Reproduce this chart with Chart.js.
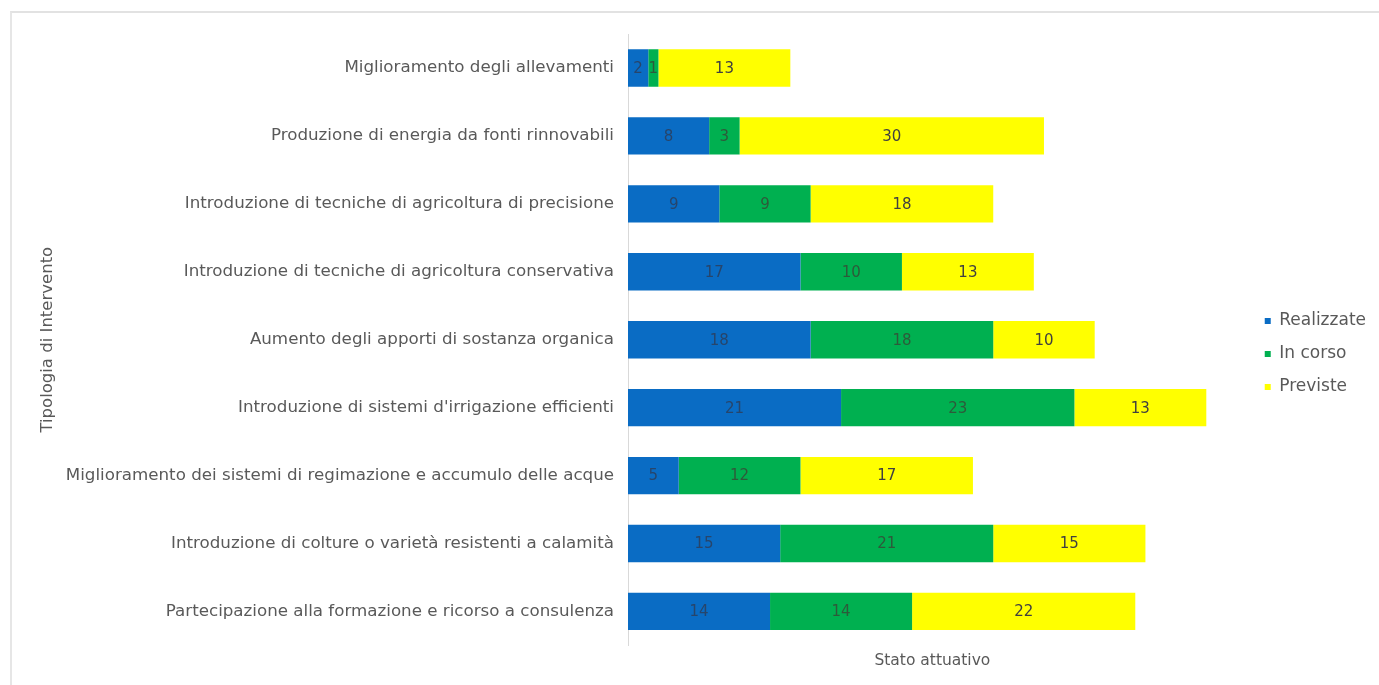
<!DOCTYPE html>
<html>
<head>
<meta charset="utf-8">
<script src="https://cdn.jsdelivr.net/npm/chart.js@4/dist/chart.umd.min.js"></script>
<style>
    html, body { margin: 0; padding: 0; background: #fff; overflow: hidden; }
    #frame {
        position: absolute; left: 10px; top: 11px; width: 1400px; height: 700px;
        border-top: 2px solid #e2e2e2; border-left: 2px solid #e6e6e6; box-sizing: border-box;
    }
    #chart-container { position: absolute; left: 0; top: 0; width: 1379px; height: 685px; }
</style>
</head>
<body>
<div id="frame"></div>
<div id="chart-container"><canvas id="chart"></canvas></div>
<script>
const categories = [
    "Miglioramento degli allevamenti",
    "Produzione di energia da fonti rinnovabili",
    "Introduzione di tecniche di agricoltura di precisione",
    "Introduzione di tecniche di agricoltura conservativa",
    "Aumento degli apporti di sostanza organica",
    "Introduzione di sistemi d'irrigazione efficienti",
    "Miglioramento dei sistemi di regimazione e accumulo delle acque",
    "Introduzione di colture o varietà resistenti a calamità",
    "Partecipazione alla formazione e ricorso a consulenza"
];
const realizzate = [2, 8, 9, 17, 18, 21, 5, 15, 14];
const inCorso = [1, 3, 9, 10, 18, 23, 12, 21, 14];
const previste = [13, 30, 18, 13, 10, 13, 17, 15, 22];

const FONT = "'DejaVu Sans', sans-serif";
const AXIS_LEFT = 628;
const LEGEND_SHIFT = 12;

// writes each segment's value in the middle of its bar
const barValues = {
    id: 'barValues',
    afterDatasetsDraw(chart) {
        const {ctx} = chart;
        ctx.save();
        ctx.font = "15px " + FONT;
        ctx.textAlign = 'center';
        ctx.textBaseline = 'middle';
        chart.data.datasets.forEach((ds, i) => {
            const meta = chart.getDatasetMeta(i);
            meta.data.forEach((bar, j) => {
                const x = (bar.x + bar.base) / 2;
                ctx.fillStyle = ds.labelColor;
                ctx.fillText(String(ds.data[j]), x, bar.y + 1);
            });
        });
        ctx.restore();
    }
};

// leave a wider gap between the bars and the legend
const legendGap = {
    id: 'legendGap',
    afterLayout(chart) {
        if (chart.legend) {
            chart.legend.left += LEGEND_SHIFT;
            chart.legend.right += LEGEND_SHIFT;
        }
    }
};

let ctx = document.getElementById('chart').getContext('2d');
let chart = new Chart(ctx, {
    type: 'bar',
    data: {
        labels: categories,
        datasets: [
            {label: 'Realizzate', data: realizzate, backgroundColor: '#0A6CC4', labelColor: '#27456b'},
            {label: 'In corso', data: inCorso, backgroundColor: '#00B050', labelColor: '#2d5a3a'},
            {label: 'Previste', data: previste, backgroundColor: '#FFFF00', labelColor: '#404040'}
        ]
    },
    options: {
        indexAxis: 'y',
        responsive: true,
        maintainAspectRatio: false,
        animation: false,
        categoryPercentage: 0.55,
        barPercentage: 1,
        layout: {padding: {left: 38, top: 34, right: 15, bottom: 11}},
        scales: {
            x: {
                stacked: true,
                min: 0,
                max: 60,
                grid: {display: false, drawTicks: false},
                border: {display: false},
                ticks: {display: false},
                title: {display: true, text: 'Stato attuativo', color: '#595959', font: {family: FONT, size: 15.5}, padding: {top: 6}}
            },
            y: {
                stacked: true,
                grid: {display: false, drawTicks: false},
                border: {display: true, color: '#d9d9d9'},
                ticks: {color: '#595959', font: {family: FONT, size: 16.7}, padding: 14},
                title: {display: true, text: 'Tipologia di Intervento', color: '#595959', font: {family: FONT, size: 16.5}, padding: 0},
                afterFit(scale) {
                    // the long category names need the whole left side
                    scale.width = AXIS_LEFT - 38;
                }
            }
        },
        plugins: {
            legend: {
                position: 'right',
                labels: {
                    color: '#595959',
                    font: {family: FONT, size: 17},
                    boxWidth: 6,
                    boxHeight: 6,
                    padding: 16
                }
            },
            tooltip: {enabled: false}
        }
    },
    plugins: [barValues, legendGap]
});
</script>
</body>
</html>
